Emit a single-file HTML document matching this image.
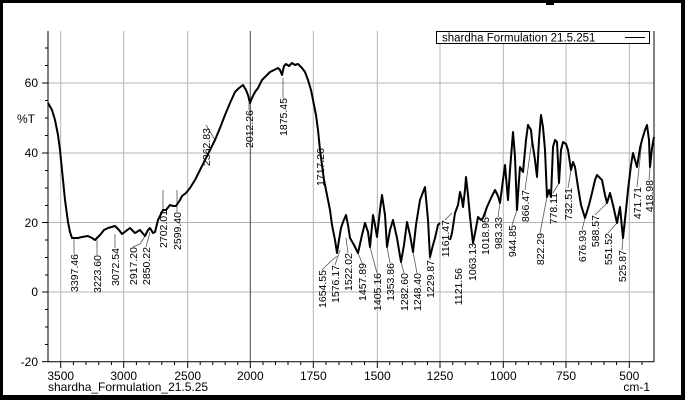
<!DOCTYPE html>
<html><head><meta charset="utf-8"><style>
html,body{margin:0;padding:0;background:#fff}
svg{display:block}
text{font-family:"Liberation Sans",Arial,sans-serif;fill:#000}
</style></head><body>
<svg width="685" height="400" viewBox="0 0 685 400" xmlns="http://www.w3.org/2000/svg">
<rect x="0" y="0" width="685" height="400" fill="#fff"/>
<!-- grid -->
<g stroke="#b4b4b4" stroke-width="1">
<line x1="60.7" y1="31" x2="60.7" y2="362"/>
<line x1="123.7" y1="31" x2="123.7" y2="362"/>
<line x1="187.7" y1="31" x2="187.7" y2="362"/>
<line x1="313.3" y1="31" x2="313.3" y2="362"/>
<line x1="377.3" y1="31" x2="377.3" y2="362"/>
<line x1="440" y1="31" x2="440" y2="362"/>
<line x1="503.3" y1="31" x2="503.3" y2="362"/>
<line x1="566" y1="31" x2="566" y2="362"/>
<line x1="629.3" y1="31" x2="629.3" y2="362"/>
<line x1="48" y1="83" x2="654" y2="83"/>
<line x1="48" y1="153" x2="654" y2="153"/>
<line x1="48" y1="222.5" x2="654" y2="222.5"/>
<line x1="48" y1="292" x2="654" y2="292"/>
</g>
<line x1="250.3" y1="31" x2="250.3" y2="362" stroke="#444" stroke-width="1"/>
<!-- axes -->
<g stroke="#000" stroke-width="1">
<line x1="48" y1="31" x2="48" y2="362"/>
<line x1="48" y1="361.7" x2="654" y2="361.7"/>
<line x1="654" y1="31" x2="654" y2="362"/>
</g>
<g stroke="#000" stroke-width="1">
<line x1="42" y1="83" x2="48" y2="83"/><line x1="42" y1="153" x2="48" y2="153"/><line x1="42" y1="222.5" x2="48" y2="222.5"/><line x1="42" y1="292" x2="48" y2="292"/><line x1="42" y1="361.7" x2="48" y2="361.7"/>
<line x1="45" y1="48" x2="48" y2="48"/><line x1="45" y1="65.5" x2="48" y2="65.5"/><line x1="45" y1="100.5" x2="48" y2="100.5"/><line x1="45" y1="118" x2="48" y2="118"/><line x1="45" y1="135.5" x2="48" y2="135.5"/><line x1="45" y1="170.5" x2="48" y2="170.5"/><line x1="45" y1="188" x2="48" y2="188"/><line x1="45" y1="205.5" x2="48" y2="205.5"/><line x1="45" y1="240" x2="48" y2="240"/><line x1="45" y1="257.5" x2="48" y2="257.5"/><line x1="45" y1="275" x2="48" y2="275"/><line x1="45" y1="309.5" x2="48" y2="309.5"/><line x1="45" y1="327" x2="48" y2="327"/><line x1="45" y1="344.5" x2="48" y2="344.5"/>
<line x1="60.7" y1="362" x2="60.7" y2="368"/><line x1="123.7" y1="362" x2="123.7" y2="368"/><line x1="187.7" y1="362" x2="187.7" y2="368"/><line x1="250.3" y1="362" x2="250.3" y2="368"/><line x1="313.3" y1="362" x2="313.3" y2="368"/><line x1="377.3" y1="362" x2="377.3" y2="368"/><line x1="440" y1="362" x2="440" y2="368"/><line x1="503.3" y1="362" x2="503.3" y2="368"/><line x1="566" y1="362" x2="566" y2="368"/><line x1="629.3" y1="362" x2="629.3" y2="368"/>
<line x1="73.4" y1="362" x2="73.4" y2="365"/><line x1="86" y1="362" x2="86" y2="365"/><line x1="98.7" y1="362" x2="98.7" y2="365"/><line x1="111.4" y1="362" x2="111.4" y2="365"/><line x1="136.4" y1="362" x2="136.4" y2="365"/><line x1="149.1" y1="362" x2="149.1" y2="365"/><line x1="161.8" y1="362" x2="161.8" y2="365"/><line x1="174.5" y1="362" x2="174.5" y2="365"/><line x1="200.2" y1="362" x2="200.2" y2="365"/><line x1="212.7" y1="362" x2="212.7" y2="365"/><line x1="225.2" y1="362" x2="225.2" y2="365"/><line x1="237.8" y1="362" x2="237.8" y2="365"/>
<line x1="263" y1="362" x2="263" y2="365"/><line x1="275.5" y1="362" x2="275.5" y2="365"/><line x1="288" y1="362" x2="288" y2="365"/><line x1="300.7" y1="362" x2="300.7" y2="365"/><line x1="326" y1="362" x2="326" y2="365"/><line x1="339" y1="362" x2="339" y2="365"/><line x1="351.7" y1="362" x2="351.7" y2="365"/><line x1="364.5" y1="362" x2="364.5" y2="365"/><line x1="389.8" y1="362" x2="389.8" y2="365"/><line x1="402.4" y1="362" x2="402.4" y2="365"/><line x1="415" y1="362" x2="415" y2="365"/><line x1="427.5" y1="362" x2="427.5" y2="365"/><line x1="452.7" y1="362" x2="452.7" y2="365"/><line x1="465.3" y1="362" x2="465.3" y2="365"/><line x1="478" y1="362" x2="478" y2="365"/><line x1="490.6" y1="362" x2="490.6" y2="365"/><line x1="515.8" y1="362" x2="515.8" y2="365"/><line x1="528.4" y1="362" x2="528.4" y2="365"/><line x1="541" y1="362" x2="541" y2="365"/><line x1="553.5" y1="362" x2="553.5" y2="365"/><line x1="578.7" y1="362" x2="578.7" y2="365"/><line x1="591.3" y1="362" x2="591.3" y2="365"/><line x1="604" y1="362" x2="604" y2="365"/><line x1="616.6" y1="362" x2="616.6" y2="365"/><line x1="642" y1="362" x2="642" y2="365"/>
</g>
<!-- axis labels -->
<g font-size="12" text-anchor="end">
<text x="38" y="87">60</text><text x="38" y="157">40</text><text x="38" y="227">20</text><text x="38" y="296">0</text><text x="38" y="366">-20</text>
</g>
<text x="17" y="123" font-size="12">%T</text>
<g font-size="12" text-anchor="middle">
<text x="60.7" y="380">3500</text><text x="123.7" y="380">3000</text><text x="187.7" y="380">2500</text><text x="250.3" y="380">2000</text><text x="313.3" y="380">1750</text><text x="377.3" y="380">1500</text><text x="440" y="380">1250</text><text x="503.3" y="380">1000</text><text x="566" y="380">750</text><text x="629.3" y="380">500</text>
</g>
<text x="48" y="391" font-size="12">shardha_Formulation_21.5.25</text>
<text x="650" y="391" font-size="12" text-anchor="end">cm-1</text>
<!-- legend -->
<rect x="436.5" y="31.5" width="213" height="12" fill="#fff" stroke="#000" stroke-width="1"/>
<text x="442" y="41.5" font-size="11.5">shardha  Formulation  21.5.251</text>
<line x1="625" y1="37.5" x2="645" y2="37.5" stroke="#000"/>
<!-- leader lines -->
<g stroke="#555" stroke-width="0.8" fill="none">
<line x1="74" y1="238" x2="74" y2="254"/><line x1="97" y1="240" x2="97" y2="255"/><line x1="115" y1="234" x2="115" y2="248"/>
<polyline points="145,236 140,244 133,247"/><polyline points="150,232 146,247"/>
<polyline points="163,190 163,210"/><line x1="177" y1="190" x2="177" y2="212"/>
<polyline points="215,140 206,125"/><line x1="249" y1="103" x2="249" y2="110"/><line x1="283" y1="78" x2="283" y2="98"/>
<polyline points="322,165 320,148"/>
<polyline points="337,256 330,262 322,270"/><polyline points="340,250 335,265"/><polyline points="346,238 348,253"/>
<polyline points="358,253 362,263"/><polyline points="370,247 377,273"/><polyline points="387,247 390,263"/><polyline points="401,262 404,273"/><polyline points="413,252 417,273"/><polyline points="430,257 430,260"/>
<polyline points="452,213 445,220"/><polyline points="473,243 472,243"/><polyline points="487,207 485,217"/><polyline points="500,203 498,217"/><polyline points="517,210 512,225"/><polyline points="532,140 525,190"/><polyline points="547,197 540,233"/><polyline points="559,183 553,193"/><polyline points="571,170 568,188"/><polyline points="585,218 582,230"/><polyline points="607,203 595,215"/><polyline points="617,223 608,233"/><polyline points="623,238 622,250"/><polyline points="642,140 637,187"/><polyline points="650,167 649,180"/>
</g>
<!-- spectrum -->
<polyline fill="none" stroke="#000" stroke-width="2" stroke-linejoin="round" points="48,103 52,110 55,120 58,135 60,150 63,180 65,200 68,222 70,232 72,238 78,238 82,237 88,236 92,238 95,240 100,235 104,230 108,228 115,226 119,230 122,234 126,231 130,228 135,233 140,230 145,236 148,230 150,228 153,233 155,232 158,220 163,210 166,210 170,205 173,206 176,206 180,200 182,196 186,193 190,188 195,180 200,170 205,160 210,150 215,140 220,128 225,115 230,103 235,92 239,88 243,85 246,90 248,95 250,103 252,98 255,92 258,88 262,80 266,76 270,72 274,70 278,68 280,70 282,75 284,66 286,64 289,66 292,63 295,65 298,64 302,68 305,72 308,80 311,90 313,100 316,115 318,130 320,150 322,165 324,180 326,190 328,200 330,210 332,225 335,240 337,253 339,240 341,228 343,222 346,215 348,225 350,238 354,245 358,253 362,235 365,223 368,232 370,247 373,215 375,225 377,237 380,210 382,195 385,215 387,247 390,230 393,220 397,238 401,262 404,245 407,222 410,235 413,252 416,225 420,200 425,187 428,220 430,257 433,245 435,238 438,225 440,223"/>
<polyline fill="none" stroke="#000" stroke-width="2" stroke-linejoin="round" points="450,240 452,233 455,213 458,205 460,192 462,200 463,207 465,190 466,177 468,195 470,217 473,243 476,228 478,217 481,220 483,218 487,207 491,198 495,190 498,196 500,203 503,180 505,165 508,200 510,170 513,132 515,157 517,210 519,180 520,167 523,172 526,140 528,125 531,130 532,140 535,160 537,177 539,140 541,115 543,127 545,150 547,197 549,190 551,197 553,147 555,140 557,142 559,183 561,150 563,142 566,144 568,150 571,170 573,162 575,167 578,187 581,205 585,218 589,205 592,193 595,180 597,175 600,178 602,180 605,195 607,203 610,193 613,205 617,223 620,207 623,238 626,210 628,190 631,165 633,153 635,160 637,167 640,148 642,140 645,130 647,125 649,140 650,167 652,148 654,137"/>
<!-- peak labels -->
<g font-size="10.5" text-anchor="end">
<text transform="translate(78,254) rotate(-90)">3397.46</text>
<text transform="translate(101,255) rotate(-90)">3223.60</text>
<text transform="translate(119,248) rotate(-90)">3072.54</text>
<text transform="translate(137,247) rotate(-90)">2917.20</text>
<text transform="translate(150,247) rotate(-90)">2850.22</text>
<text transform="translate(167,210) rotate(-90)">2702.01</text>
<text transform="translate(181,212) rotate(-90)">2599.40</text>
<text transform="translate(210,128) rotate(-90)">2362.83</text>
<text transform="translate(253,110) rotate(-90)">2012.26</text>
<text transform="translate(287,98) rotate(-90)">1875.45</text>
<text transform="translate(324,148) rotate(-90)">1717.26</text>
<text transform="translate(326,270) rotate(-90)">1654.55</text>
<text transform="translate(339,265) rotate(-90)">1576.17</text>
<text transform="translate(352,253) rotate(-90)">1522.02</text>
<text transform="translate(366,263) rotate(-90)">1457.89</text>
<text transform="translate(381,273) rotate(-90)">1405.16</text>
<text transform="translate(394,263) rotate(-90)">1353.86</text>
<text transform="translate(408,273) rotate(-90)">1282.60</text>
<text transform="translate(421,273) rotate(-90)">1248.40</text>
<text transform="translate(434,260) rotate(-90)">1229.87</text>
<text transform="translate(449,220) rotate(-90)">1161.47</text>
<text transform="translate(462,268) rotate(-90)">1121.56</text>
<text transform="translate(476,243) rotate(-90)">1063.13</text>
<text transform="translate(489,217) rotate(-90)">1018.95</text>
<text transform="translate(502,217) rotate(-90)">983.33</text>
<text transform="translate(516,225) rotate(-90)">944.85</text>
<text transform="translate(529,190) rotate(-90)">866.47</text>
<text transform="translate(544,233) rotate(-90)">822.29</text>
<text transform="translate(557,193) rotate(-90)">778.11</text>
<text transform="translate(572,188) rotate(-90)">732.51</text>
<text transform="translate(586,230) rotate(-90)">676.93</text>
<text transform="translate(599,215) rotate(-90)">588.57</text>
<text transform="translate(612,233) rotate(-90)">551.52</text>
<text transform="translate(626,250) rotate(-90)">525.87</text>
<text transform="translate(641,187) rotate(-90)">471.71</text>
<text transform="translate(653,180) rotate(-90)">418.98</text>
</g>
<!-- frame -->
<rect x="0" y="0" width="685" height="3" fill="#000"/>
<rect x="0" y="0" width="3" height="400" fill="#000"/>
<rect x="681" y="0" width="4" height="400" fill="#000"/>
<rect x="0" y="395" width="685" height="5" fill="#000"/>
<rect x="546" y="2" width="8" height="3" fill="#000"/>
</svg>
</body></html>
